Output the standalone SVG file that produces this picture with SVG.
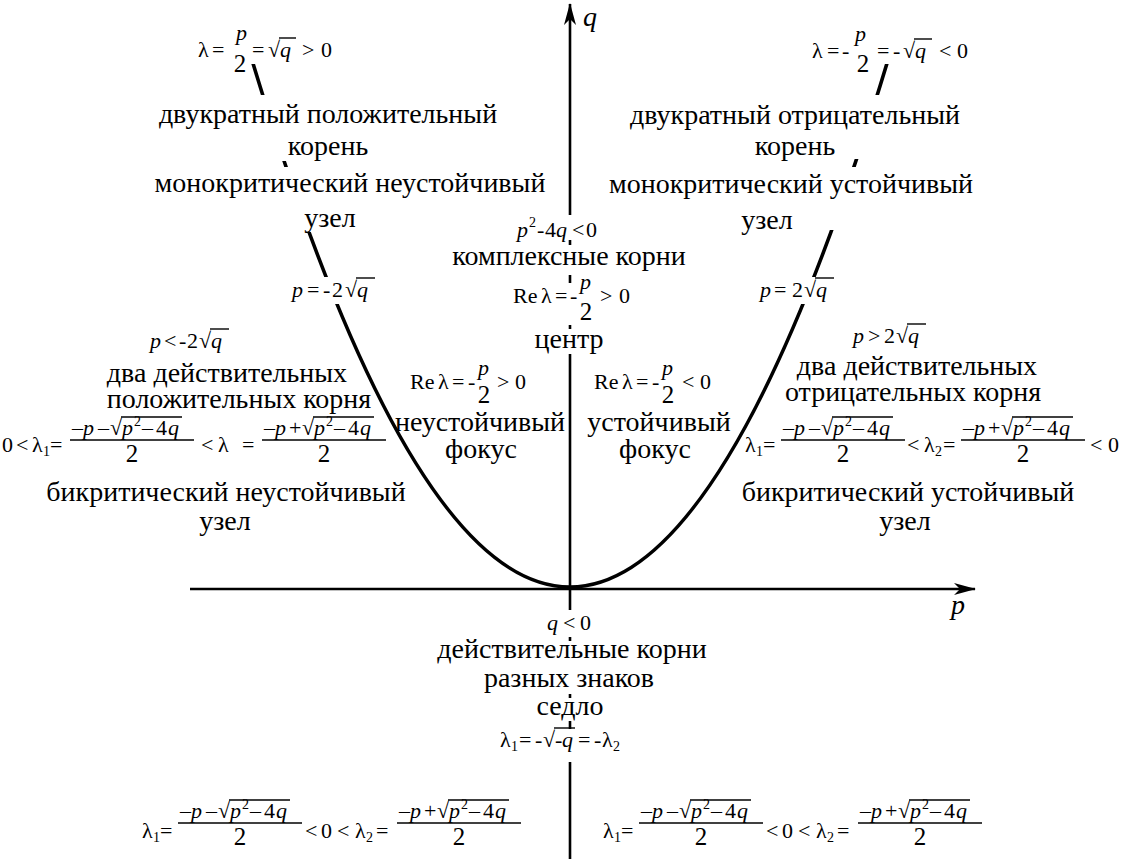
<svg xmlns="http://www.w3.org/2000/svg" width="1128" height="859" viewBox="0 0 1128 859">
<defs>
<marker id="ah" viewBox="0 0 22 12" refX="21" refY="6" markerWidth="22" markerHeight="12" markerUnits="userSpaceOnUse" orient="auto"><path d="M0,0 L22,6 L0,12 L6,6 z" fill="#000"/></marker>
<g id="fracMinus">
<text font-family="Liberation Serif" font-size="22" y="-5"><tspan x="2">–</tspan><tspan x="13" font-style="italic">p</tspan><tspan x="28">–</tspan><tspan x="40">√</tspan><tspan x="52" font-style="italic">p</tspan><tspan x="64" y="-14" font-size="14">2</tspan><tspan x="72" y="-5">–</tspan><tspan x="86">4</tspan><tspan x="98" font-style="italic">q</tspan></text>
</g>
</defs>
<rect width="1128" height="859" fill="#fff"/>
<g id="connectors" fill="none" stroke="#000">
<line stroke-width="2.6" x1="190" y1="589" x2="975" y2="589" marker-end="url(#ah)"/>
<line stroke-width="2.6" x1="570" y1="859" x2="570" y2="4" marker-end="url(#ah)"/>
<path stroke-width="3.6" d="M252,60 Q570,1114 888,60"/>
</g>
<g id="axis-labels">
<text font-family="Liberation Serif" font-size="28" font-style="italic" x="951" y="614">p</text>
<text font-family="Liberation Serif" font-size="28" font-style="italic" x="583" y="26">q</text>
</g>

<g id="top-left">
<rect fill="#fff" x="195" y="15" width="142" height="49"/>
<rect fill="#fff" x="158" y="95" width="340" height="66"/>
<rect fill="#fff" x="155" y="167" width="390" height="65"/>
<text font-family="Liberation Serif" font-size="22" y="57"><tspan x="198">λ</tspan><tspan x="212">=</tspan></text>
<text font-family="Liberation Serif" font-size="22" font-style="italic" x="236" y="40">p</text>
<text font-family="Liberation Serif" font-size="25" text-anchor="middle" x="240" y="72">2</text>
<text font-family="Liberation Serif" font-size="22" y="57"><tspan x="252">=</tspan><tspan x="268">√</tspan><tspan x="280" font-style="italic">q</tspan><tspan x="302">&gt;</tspan><tspan x="321">0</tspan></text>
<line stroke="#000" stroke-width="1.4" x1="279" y1="38" x2="296" y2="38"/>
<text font-family="Liberation Serif" font-size="28" text-anchor="middle" x="328" y="123">двукратный положительный</text>
<text font-family="Liberation Serif" font-size="28" text-anchor="middle" x="328" y="155">корень</text>
<text font-family="Liberation Serif" font-size="28" text-anchor="middle" x="350" y="192">монокритический неустойчивый</text>
<text font-family="Liberation Serif" font-size="28" text-anchor="middle" x="330" y="227">узел</text>
</g>

<g id="top-right">
<rect fill="#fff" x="808" y="15" width="180" height="49"/>
<rect fill="#fff" x="612" y="95" width="368" height="64"/>
<rect fill="#fff" x="608" y="167" width="367" height="63"/>
<text font-family="Liberation Serif" font-size="22" y="58"><tspan x="812">λ</tspan><tspan x="827">=</tspan><tspan x="842">-</tspan></text>
<text font-family="Liberation Serif" font-size="22" font-style="italic" x="855" y="41">p</text>
<text font-family="Liberation Serif" font-size="25" text-anchor="middle" x="863" y="72">2</text>
<text font-family="Liberation Serif" font-size="22" y="58"><tspan x="877">=</tspan><tspan x="893">-</tspan><tspan x="903">√</tspan><tspan x="915" font-style="italic">q</tspan><tspan x="939">&lt;</tspan><tspan x="957">0</tspan></text>
<line stroke="#000" stroke-width="1.4" x1="914" y1="39" x2="932" y2="39"/>
<text font-family="Liberation Serif" font-size="28" text-anchor="middle" x="795" y="124">двукратный отрицательный</text>
<text font-family="Liberation Serif" font-size="28" text-anchor="middle" x="795" y="155">корень</text>
<text font-family="Liberation Serif" font-size="28" text-anchor="middle" x="791" y="193">монокритический устойчивый</text>
<text font-family="Liberation Serif" font-size="28" text-anchor="middle" x="767" y="229">узел</text>
</g>

<g id="left-boundary">
<rect fill="#fff" x="283" y="277" width="107" height="27"/>
<text font-family="Liberation Serif" font-size="22" y="297"><tspan x="292" font-style="italic">p</tspan><tspan x="307">=</tspan><tspan x="323">-</tspan><tspan x="332">2</tspan><tspan x="345">√</tspan><tspan x="357" font-style="italic">q</tspan></text>
<line stroke="#000" stroke-width="1.4" x1="356" y1="278" x2="375" y2="278"/>
</g>

<g id="right-boundary">
<rect fill="#fff" x="757" y="277" width="83" height="27"/>
<text font-family="Liberation Serif" font-size="22" y="297"><tspan x="760" font-style="italic">p</tspan><tspan x="774">=</tspan><tspan x="792">2</tspan><tspan x="804">√</tspan><tspan x="816" font-style="italic">q</tspan></text>
<line stroke="#000" stroke-width="1.4" x1="815" y1="278" x2="834" y2="278"/>
</g>

<g id="center-top">
<rect fill="#fff" x="512" y="215" width="108" height="25"/>
<rect fill="#fff" x="438" y="245" width="262" height="30"/>
<rect fill="#fff" x="507" y="283" width="130" height="42"/>
<rect fill="#fff" x="533" y="329" width="74" height="25"/>
<text font-family="Liberation Serif" font-size="22" y="237"><tspan x="517" font-style="italic">p</tspan><tspan x="529" y="227" font-size="14">2</tspan><tspan x="537" y="237">-</tspan><tspan x="545">4</tspan><tspan x="556" font-style="italic">q</tspan><tspan x="572">&lt;</tspan><tspan x="586">0</tspan></text>
<text font-family="Liberation Serif" font-size="28" text-anchor="middle" x="569" y="265">комплексные корни</text>
<text font-family="Liberation Serif" font-size="22" y="303"><tspan x="513">Re</tspan><tspan x="541">λ</tspan><tspan x="555">=</tspan><tspan x="570">-</tspan></text>
<text font-family="Liberation Serif" font-size="22" font-style="italic" x="580" y="289">p</text>
<text font-family="Liberation Serif" font-size="25" text-anchor="middle" x="586" y="320">2</text>
<text font-family="Liberation Serif" font-size="22" y="303"><tspan x="600">&gt;</tspan><tspan x="619">0</tspan></text>
<text font-family="Liberation Serif" font-size="28" text-anchor="middle" x="569" y="348">центр</text>
</g>

<g id="unstable-focus">
<text font-family="Liberation Serif" font-size="22" y="389"><tspan x="410">Re</tspan><tspan x="438">λ</tspan><tspan x="452">=</tspan><tspan x="468">-</tspan></text>
<text font-family="Liberation Serif" font-size="22" font-style="italic" x="478" y="375">p</text>
<text font-family="Liberation Serif" font-size="25" text-anchor="middle" x="484" y="403">2</text>
<text font-family="Liberation Serif" font-size="22" y="389"><tspan x="497">&gt;</tspan><tspan x="515">0</tspan></text>
<text font-family="Liberation Serif" font-size="28" text-anchor="middle" x="480" y="431">неустойчивый</text>
<text font-family="Liberation Serif" font-size="28" text-anchor="middle" x="481" y="458">фокус</text>
</g>

<g id="stable-focus">
<text font-family="Liberation Serif" font-size="22" y="389"><tspan x="594">Re</tspan><tspan x="622">λ</tspan><tspan x="636">=</tspan><tspan x="652">-</tspan></text>
<text font-family="Liberation Serif" font-size="22" font-style="italic" x="662" y="375">p</text>
<text font-family="Liberation Serif" font-size="25" text-anchor="middle" x="668" y="403">2</text>
<text font-family="Liberation Serif" font-size="22" y="389"><tspan x="682">&lt;</tspan><tspan x="700">0</tspan></text>
<text font-family="Liberation Serif" font-size="28" text-anchor="middle" x="659" y="431">устойчивый</text>
<text font-family="Liberation Serif" font-size="28" text-anchor="middle" x="655" y="458">фокус</text>
</g>

<g id="left-node">
<text font-family="Liberation Serif" font-size="22" y="348"><tspan x="150" font-style="italic">p</tspan><tspan x="164">&lt;</tspan><tspan x="179">-</tspan><tspan x="187">2</tspan><tspan x="199">√</tspan><tspan x="211" font-style="italic">q</tspan></text>
<line stroke="#000" stroke-width="1.4" x1="210" y1="329" x2="229" y2="329"/>
<text font-family="Liberation Serif" font-size="28" text-anchor="middle" x="227" y="382">два действительных</text>
<text font-family="Liberation Serif" font-size="28" text-anchor="middle" x="239" y="408">положительных корня</text>
<text font-family="Liberation Serif" font-size="22" y="452"><tspan x="2">0</tspan><tspan x="16">&lt;</tspan><tspan x="32">λ</tspan><tspan x="43" y="456" font-size="14">1</tspan><tspan x="50" y="452">=</tspan></text>
<g transform="translate(70,440)">
<text font-family="Liberation Serif" font-size="22" y="-5"><tspan x="2">–</tspan><tspan x="13" font-style="italic">p</tspan><tspan x="28">–</tspan><tspan x="40">√</tspan><tspan x="52" font-style="italic">p</tspan><tspan x="64" y="-14" font-size="14">2</tspan><tspan x="72" y="-5">–</tspan><tspan x="86">4</tspan><tspan x="98" font-style="italic">q</tspan></text>
<line stroke="#000" stroke-width="1.4" x1="51" y1="-23" x2="112" y2="-23"/>
<line stroke="#000" stroke-width="1.4" x1="0" y1="0" x2="124" y2="0"/>
<text font-family="Liberation Serif" font-size="25" text-anchor="middle" x="62" y="22">2</text>
</g>
<text font-family="Liberation Serif" font-size="22" y="452"><tspan x="201">&lt;</tspan><tspan x="218">λ</tspan><tspan x="242">=</tspan></text>
<g transform="translate(262,440)">
<text font-family="Liberation Serif" font-size="22" y="-5"><tspan x="2">–</tspan><tspan x="13" font-style="italic">p</tspan><tspan x="27">+</tspan><tspan x="40">√</tspan><tspan x="52" font-style="italic">p</tspan><tspan x="64" y="-14" font-size="14">2</tspan><tspan x="72" y="-5">–</tspan><tspan x="86">4</tspan><tspan x="98" font-style="italic">q</tspan></text>
<line stroke="#000" stroke-width="1.4" x1="51" y1="-23" x2="112" y2="-23"/>
<line stroke="#000" stroke-width="1.4" x1="0" y1="0" x2="124" y2="0"/>
<text font-family="Liberation Serif" font-size="25" text-anchor="middle" x="62" y="22">2</text>
</g>
<text font-family="Liberation Serif" font-size="28" text-anchor="middle" x="226" y="501">бикритический неустойчивый</text>
<text font-family="Liberation Serif" font-size="28" text-anchor="middle" x="225" y="530">узел</text>
</g>

<g id="right-node">
<text font-family="Liberation Serif" font-size="22" y="343"><tspan x="853" font-style="italic">p</tspan><tspan x="868">&gt;</tspan><tspan x="884">2</tspan><tspan x="896">√</tspan><tspan x="908" font-style="italic">q</tspan></text>
<line stroke="#000" stroke-width="1.4" x1="907" y1="324" x2="926" y2="324"/>
<text font-family="Liberation Serif" font-size="28" text-anchor="middle" x="917" y="375">два действительных</text>
<text font-family="Liberation Serif" font-size="28" text-anchor="middle" x="913" y="401">отрицательных корня</text>
<text font-family="Liberation Serif" font-size="22" y="452"><tspan x="745">λ</tspan><tspan x="756" y="456" font-size="14">1</tspan><tspan x="763" y="452">=</tspan></text>
<g transform="translate(781,440)">
<text font-family="Liberation Serif" font-size="22" y="-5"><tspan x="2">–</tspan><tspan x="13" font-style="italic">p</tspan><tspan x="28">–</tspan><tspan x="40">√</tspan><tspan x="52" font-style="italic">p</tspan><tspan x="64" y="-14" font-size="14">2</tspan><tspan x="72" y="-5">–</tspan><tspan x="86">4</tspan><tspan x="98" font-style="italic">q</tspan></text>
<line stroke="#000" stroke-width="1.4" x1="51" y1="-23" x2="112" y2="-23"/>
<line stroke="#000" stroke-width="1.4" x1="0" y1="0" x2="124" y2="0"/>
<text font-family="Liberation Serif" font-size="25" text-anchor="middle" x="62" y="22">2</text>
</g>
<text font-family="Liberation Serif" font-size="22" y="452"><tspan x="907">&lt;</tspan><tspan x="924">λ</tspan><tspan x="935" y="456" font-size="14">2</tspan><tspan x="943" y="452">=</tspan></text>
<g transform="translate(961,440)">
<text font-family="Liberation Serif" font-size="22" y="-5"><tspan x="2">–</tspan><tspan x="13" font-style="italic">p</tspan><tspan x="27">+</tspan><tspan x="40">√</tspan><tspan x="52" font-style="italic">p</tspan><tspan x="64" y="-14" font-size="14">2</tspan><tspan x="72" y="-5">–</tspan><tspan x="86">4</tspan><tspan x="98" font-style="italic">q</tspan></text>
<line stroke="#000" stroke-width="1.4" x1="51" y1="-23" x2="112" y2="-23"/>
<line stroke="#000" stroke-width="1.4" x1="0" y1="0" x2="124" y2="0"/>
<text font-family="Liberation Serif" font-size="25" text-anchor="middle" x="62" y="22">2</text>
</g>
<text font-family="Liberation Serif" font-size="22" y="452"><tspan x="1090">&lt;</tspan><tspan x="1108">0</tspan></text>
<text font-family="Liberation Serif" font-size="28" text-anchor="middle" x="908" y="501">бикритический устойчивый</text>
<text font-family="Liberation Serif" font-size="28" text-anchor="middle" x="905" y="530">узел</text>
</g>

<g id="saddle">
<rect fill="#fff" x="543" y="610" width="54" height="27"/>
<rect fill="#fff" x="438" y="641" width="270" height="53"/>
<rect fill="#fff" x="533" y="698" width="74" height="23"/>
<rect fill="#fff" x="497" y="729" width="150" height="33"/>
<text font-family="Liberation Serif" font-size="22" y="630"><tspan x="547" font-style="italic">q</tspan><tspan x="563">&lt;</tspan><tspan x="580">0</tspan></text>
<text font-family="Liberation Serif" font-size="28" text-anchor="middle" x="572" y="658">действительные корни</text>
<text font-family="Liberation Serif" font-size="28" text-anchor="middle" x="569" y="687">разных знаков</text>
<text font-family="Liberation Serif" font-size="28" text-anchor="middle" x="570" y="715">седло</text>
<text font-family="Liberation Serif" font-size="22" y="747"><tspan x="500">λ</tspan><tspan x="511" y="751" font-size="14">1</tspan><tspan x="519" y="747">=</tspan><tspan x="535">-</tspan><tspan x="543">√</tspan><tspan x="555">-</tspan><tspan x="562" font-style="italic">q</tspan><tspan x="578">=</tspan><tspan x="594">-</tspan><tspan x="602">λ</tspan><tspan x="613" y="751" font-size="14">2</tspan></text>
<line stroke="#000" stroke-width="1.4" x1="554" y1="728" x2="575" y2="728"/>
</g>

<g id="bottom-left">
<text font-family="Liberation Serif" font-size="22" y="838"><tspan x="142">λ</tspan><tspan x="153" y="842" font-size="14">1</tspan><tspan x="160" y="838">=</tspan></text>
<g transform="translate(178,823)">
<text font-family="Liberation Serif" font-size="22" y="-5"><tspan x="2">–</tspan><tspan x="13" font-style="italic">p</tspan><tspan x="28">–</tspan><tspan x="40">√</tspan><tspan x="52" font-style="italic">p</tspan><tspan x="64" y="-14" font-size="14">2</tspan><tspan x="72" y="-5">–</tspan><tspan x="86">4</tspan><tspan x="98" font-style="italic">q</tspan></text>
<line stroke="#000" stroke-width="1.4" x1="51" y1="-23" x2="112" y2="-23"/>
<line stroke="#000" stroke-width="1.4" x1="0" y1="0" x2="124" y2="0"/>
<text font-family="Liberation Serif" font-size="25" text-anchor="middle" x="62" y="22">2</text>
</g>
<text font-family="Liberation Serif" font-size="22" y="838"><tspan x="305">&lt;</tspan><tspan x="321">0</tspan><tspan x="337">&lt;</tspan><tspan x="355">λ</tspan><tspan x="366" y="842" font-size="14">2</tspan><tspan x="376" y="838">=</tspan></text>
<g transform="translate(397,823)">
<text font-family="Liberation Serif" font-size="22" y="-5"><tspan x="2">–</tspan><tspan x="13" font-style="italic">p</tspan><tspan x="27">+</tspan><tspan x="40">√</tspan><tspan x="52" font-style="italic">p</tspan><tspan x="64" y="-14" font-size="14">2</tspan><tspan x="72" y="-5">–</tspan><tspan x="86">4</tspan><tspan x="98" font-style="italic">q</tspan></text>
<line stroke="#000" stroke-width="1.4" x1="51" y1="-23" x2="112" y2="-23"/>
<line stroke="#000" stroke-width="1.4" x1="0" y1="0" x2="124" y2="0"/>
<text font-family="Liberation Serif" font-size="25" text-anchor="middle" x="62" y="22">2</text>
</g>
</g>

<g id="bottom-right">
<text font-family="Liberation Serif" font-size="22" y="838"><tspan x="603">λ</tspan><tspan x="614" y="842" font-size="14">1</tspan><tspan x="621" y="838">=</tspan></text>
<g transform="translate(639,823)">
<text font-family="Liberation Serif" font-size="22" y="-5"><tspan x="2">–</tspan><tspan x="13" font-style="italic">p</tspan><tspan x="28">–</tspan><tspan x="40">√</tspan><tspan x="52" font-style="italic">p</tspan><tspan x="64" y="-14" font-size="14">2</tspan><tspan x="72" y="-5">–</tspan><tspan x="86">4</tspan><tspan x="98" font-style="italic">q</tspan></text>
<line stroke="#000" stroke-width="1.4" x1="51" y1="-23" x2="112" y2="-23"/>
<line stroke="#000" stroke-width="1.4" x1="0" y1="0" x2="124" y2="0"/>
<text font-family="Liberation Serif" font-size="25" text-anchor="middle" x="62" y="22">2</text>
</g>
<text font-family="Liberation Serif" font-size="22" y="838"><tspan x="766">&lt;</tspan><tspan x="782">0</tspan><tspan x="798">&lt;</tspan><tspan x="816">λ</tspan><tspan x="827" y="842" font-size="14">2</tspan><tspan x="837" y="838">=</tspan></text>
<g transform="translate(858,823)">
<text font-family="Liberation Serif" font-size="22" y="-5"><tspan x="2">–</tspan><tspan x="13" font-style="italic">p</tspan><tspan x="27">+</tspan><tspan x="40">√</tspan><tspan x="52" font-style="italic">p</tspan><tspan x="64" y="-14" font-size="14">2</tspan><tspan x="72" y="-5">–</tspan><tspan x="86">4</tspan><tspan x="98" font-style="italic">q</tspan></text>
<line stroke="#000" stroke-width="1.4" x1="51" y1="-23" x2="112" y2="-23"/>
<line stroke="#000" stroke-width="1.4" x1="0" y1="0" x2="124" y2="0"/>
<text font-family="Liberation Serif" font-size="25" text-anchor="middle" x="62" y="22">2</text>
</g>
</g>
</svg>
